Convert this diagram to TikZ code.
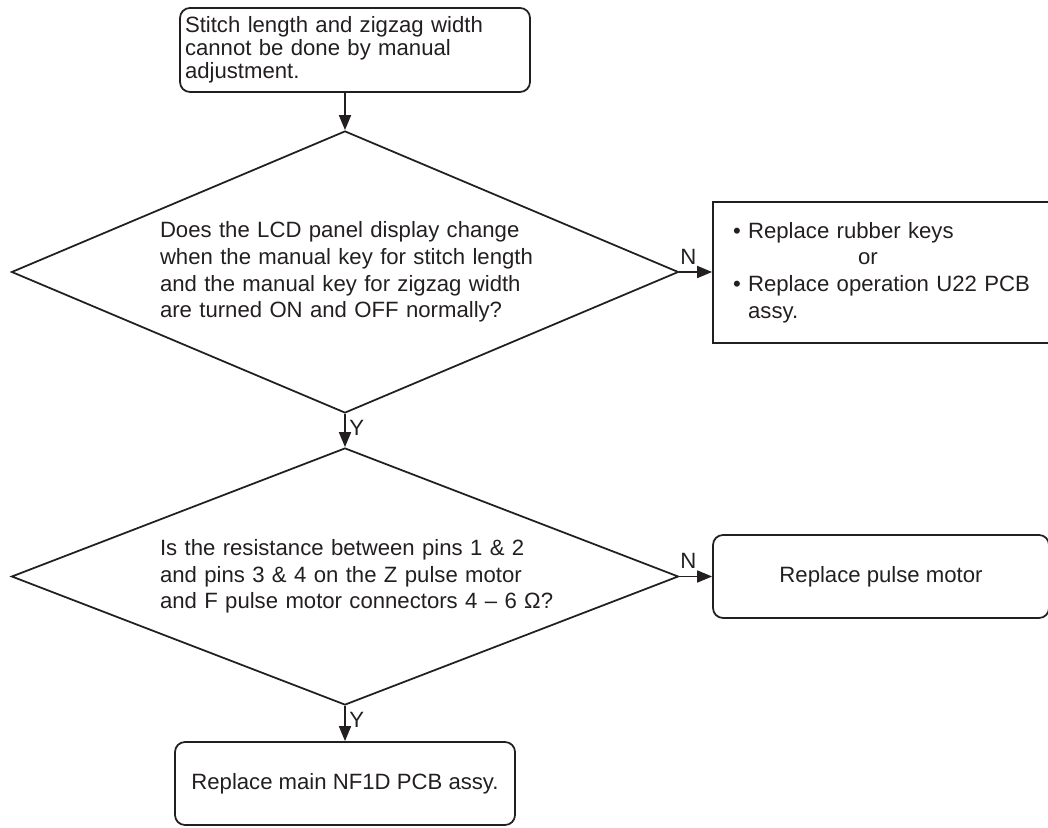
\documentclass[tikz,border=0pt]{standalone}
\usepackage{fontspec}
\setmainfont{Liberation Sans}
\usepackage{xcolor}
\usetikzlibrary{shapes.geometric, arrows.meta, positioning}
\definecolor{ink}{RGB}{35,31,32}

\begin{document}
\begin{tikzpicture}[
    startbox/.style={rectangle, rounded corners=0.2cm, draw=ink, line width=1pt, text=ink, minimum width=7cm, minimum height=1.68cm, text width=6.8cm, inner xsep=0.1cm, align=left, font=\fontsize{12.6}{13}\selectfont},
    decision/.style={diamond, draw=ink, line width=1pt, text=ink, aspect=2.36, inner sep=0pt, text width=7.4cm, align=left, minimum width=13.34cm, font=\fontsize{12.6}{15.2}\selectfont},
    action/.style={rectangle, draw=ink, line width=1pt, text=ink, minimum height=1.66cm, font=\fontsize{12.6}{15.2}\selectfont},
    flow/.style={-{Triangle[length=0.3cm, width=0.24cm]}, draw=ink, line width=1pt},
    yn/.style={font=\fontsize{12.6}{15}\selectfont, text=ink}
]
\useasboundingbox (0,0) rectangle (20.96,16.54);

% Nodes
\node[startbox] (start) at (7.10, 15.54) {Stitch length and zigzag width\\ cannot be done by manual\\ adjustment.};

\node[decision, minimum height=5.64cm] (lcd) at (6.90, 11.10) {\mbox{Does the LCD panel display change}\\ \mbox{when the manual key for stitch length}\\ \mbox{and the manual key for zigzag width}\\ \mbox{are turned ON and OFF normally?}};

\node[action, minimum width=6.94cm, minimum height=2.82cm, text width=6.14cm, inner xsep=0.4cm, align=left] (keys) at (17.73, 11.09) {\textbullet\ Replace rubber keys\\ \hspace*{2.5cm}or\\ \textbullet\ Replace operation U22 PCB\\ \phantom{\textbullet\ }assy.};

\node[decision, minimum height=5.14cm] (ohm) at (6.90, 5.01) {\mbox{Is the resistance between pins 1 \& 2}\\ \mbox{and pins 3 \& 4 on the Z pulse motor}\\ \mbox{and F pulse motor connectors 4 -- 6 Ω?}};

\node[action, rounded corners=0.2cm, minimum width=6.72cm] (motor) at (17.62, 5.01) {Replace pulse motor};

\node[action, rounded corners=0.2cm, minimum width=6.8cm] (mainpcb) at (6.90, 0.87) {Replace main NF1D PCB assy.};

% Arrows
\draw[flow] (start.south -| lcd.north) -- (lcd.north);
\draw[flow] (lcd.east) -- node[yn, pos=0, anchor=south west, inner xsep=0pt, inner ysep=4pt] {N} (lcd.east -| keys.west);
\draw[flow] (lcd.south) -- node[yn, pos=0.42, right, inner sep=2pt] {Y} (ohm.north);
\draw[flow] (ohm.east) -- node[yn, pos=0, anchor=south west, inner xsep=0pt, inner ysep=4pt] {N} (ohm.east -| motor.west);
\draw[flow] (ohm.south) -- node[yn, pos=0.4, right, inner sep=2pt] {Y} (mainpcb.north);

\end{tikzpicture}
\end{document}
